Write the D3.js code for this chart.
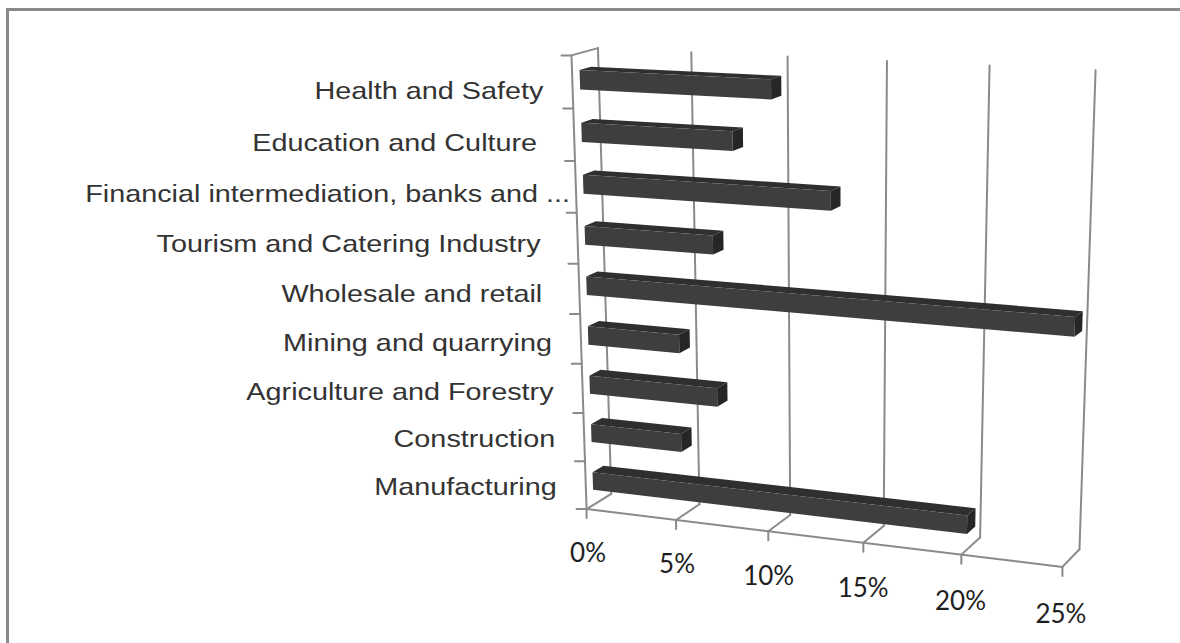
<!DOCTYPE html>
<html>
<head>
<meta charset="utf-8">
<script src="https://cdn.jsdelivr.net/npm/d3@7"></script>
<style>
  html, body { margin: 0; padding: 0; background: #fff; }
  svg { display: block; }
  text { white-space: pre; }
</style>
</head>
<body>
<script>
// Sectors, listed top to bottom as they appear on the category axis
const categories = [
  "Health and Safety",
  "Education and Culture ",
  "Financial intermediation, banks and ...",
  "Tourism and Catering Industry ",
  "Wholesale and retail ",
  "Mining and quarrying",
  "Agriculture and Forestry",
  "Construction",
  "Manufacturing"
];
// Share of each sector, in percent
const shares = [10, 8, 13, 6.9, 25, 5, 7, 5, 20];
// Value axis
const tickValues = [0, 5, 10, 15, 20, 25];
const tickLabels = ["0%", "5%", "10%", "15%", "20%", "25%"];

const W = 1180, H = 643;
const VMAX = 25, LEVELS = categories.length;

// Camera: screen anchors of the plot box (value, category level, depth 0=back..1=front, px, py)
const frameAnchors = [
  [0, 9, 0, 597, 48], [25, 9, 0, 1095, 70], [25, 0, 0, 1080, 549], [0, 0, 0, 612, 493],
  [5, 9, 0, 691, 53], [10, 9, 0, 788, 56], [15, 9, 0, 888, 62], [20, 9, 0, 989, 65],
  [5, 0, 0, 699, 504], [10, 0, 0, 790, 515], [15, 0, 0, 885, 527], [20, 0, 0, 979, 538],
  [0, 9, 1, 572, 55], [0, 0, 1, 586, 509], [25, 0, 1, 1063, 567],
  [5, 0, 1, 677, 520], [10, 0, 1, 768, 531], [15, 0, 1, 864, 543], [20, 0, 1, 960, 554],
  [0, 1, 1, 584.5, 461], [0, 2, 1, 583, 413], [0, 3, 1, 581.5, 364], [0, 4, 1, 580, 315],
  [0, 5, 1, 578.4, 264], [0, 6, 1, 576.9, 213], [0, 7, 1, 575.3, 161], [0, 8, 1, 573.6, 108]
];

// Fit a 3x4 projective camera (last entry fixed at 1) by linear least squares
function fitCamera(pts) {
  const n = 11;
  const M = Array.from({length: n}, () => new Array(n + 1).fill(0));
  const addRow = (r, b) => {
    for (let i = 0; i < n; i++) {
      for (let j = 0; j < n; j++) M[i][j] += r[i] * r[j];
      M[i][n] += r[i] * b;
    }
  };
  pts.forEach(([X, Y, Z, u, v]) => {
    const x = X / VMAX, y = Y / LEVELS, z = Z;
    const un = (u - 600) / 400, vn = (v - 300) / 400;
    addRow([x, y, z, 1, 0, 0, 0, 0, -un * x, -un * y, -un * z], un);
    addRow([0, 0, 0, 0, x, y, z, 1, -vn * x, -vn * y, -vn * z], vn);
  });
  for (let c = 0; c < n; c++) {
    let piv = c;
    for (let r = c + 1; r < n; r++) if (Math.abs(M[r][c]) > Math.abs(M[piv][c])) piv = r;
    [M[c], M[piv]] = [M[piv], M[c]];
    for (let r = 0; r < n; r++) {
      if (r === c) continue;
      const f = M[r][c] / M[c][c];
      for (let k = c; k <= n; k++) M[r][k] -= f * M[c][k];
    }
  }
  return M.map((row, i) => row[n] / row[i]);
}
const P = fitCamera(frameAnchors);
// normalized (x 0..1, y 0..1, z 0..1) -> screen
function project(x, y, z) {
  const w = P[8] * x + P[9] * y + P[10] * z + 1;
  return [600 + 400 * (P[0] * x + P[1] * y + P[2] * z + P[3]) / w,
          300 + 400 * (P[4] * x + P[5] * y + P[6] * z + P[7]) / w];
}

// Scales
const x = d3.scaleLinear().domain([0, VMAX]).range([0, 1]);
const level = d3.scaleLinear().domain([0, LEVELS]).range([0, 1]);
const band = d3.scaleBand()
  .domain(categories.slice().reverse())
  .range([0, 1])
  .paddingInner(0.63)
  .paddingOuter(0.315);
const BAR_BACK = 0.28, BAR_FRONT = 0.72;

const svg = d3.select("body").append("svg")
  .attr("width", W).attr("height", H)
  .attr("viewBox", `0 0 ${W} ${H}`);

// Chart frame
svg.append("rect")
  .attr("x", 7.5).attr("y", 9.5)
  .attr("width", W + 20).attr("height", H + 20)
  .attr("fill", "#fff").attr("stroke", "#8a8a8a").attr("stroke-width", 3);

const line = d3.line();
const grid = svg.append("g")
  .attr("fill", "none").attr("stroke", "#8a8a8a").attr("stroke-width", 2)
  .attr("stroke-linecap", "round").attr("stroke-linejoin", "round");

// Back wall gridlines and floor depth lines at each value tick
tickValues.forEach(t => {
  grid.append("path").attr("d", line([project(x(t), 0, 0), project(x(t), 1, 0)]));
  grid.append("path").attr("d", line([project(x(t), 0, 0), project(x(t), 0, 1)]));
  const f = project(x(t), 0, 1);
  grid.append("path").attr("d", line([f, [f[0], f[1] + 9]]));
});
// Floor front edge
grid.append("path").attr("d", line([project(0, 0, 1), project(1, 0, 1)]));
// Side wall: top edge and category axis
grid.append("path").attr("d", line([project(0, 1, 1), project(0, 1, 0)]));
grid.append("path").attr("d", line([project(0, 0, 1), project(0, 1, 1)]));
d3.range(LEVELS + 1).forEach(k => {
  const p = project(0, level(k), 1);
  grid.append("path").attr("d", line([[p[0] - 10, p[1]], p]));
});

// Bars: top face, front face, end face
const bars = svg.append("g");
const poly = pts => "M" + pts.map(p => p.join(",")).join("L") + "Z";
categories.forEach((c, i) => {
  const x1 = x(shares[i]);
  const y0 = band(c), y1 = y0 + band.bandwidth();
  const g = bars.append("g");
  g.append("path").attr("fill", "#2f2f2f").attr("d", poly([
    project(0, y1, BAR_FRONT), project(x1, y1, BAR_FRONT),
    project(x1, y1, BAR_BACK), project(0, y1, BAR_BACK)]));
  g.append("path").attr("fill", "#3e3e3e").attr("d", poly([
    project(0, y0, BAR_FRONT), project(x1, y0, BAR_FRONT),
    project(x1, y1, BAR_FRONT), project(0, y1, BAR_FRONT)]));
  g.append("path").attr("fill", "#262626").attr("d", poly([
    project(x1, y0, BAR_FRONT), project(x1, y1, BAR_FRONT),
    project(x1, y1, BAR_BACK), project(x1, y0, BAR_BACK)]));
});

// Category labels: rows follow the back-wall spacing, set just below it
const SX = 1.2, LABEL_GAP = 29, LABEL_LEFT = 85, LABEL_DROP = 16;
const catLabels = svg.append("g")
  .attr("font-family", "'Liberation Sans', Arial, sans-serif")
  .attr("font-size", 24).attr("fill", "#333");
categories.forEach(c => {
  const mid = band(c) + band.bandwidth() / 2;
  const axisPt = project(0, mid, 1);
  const rowY = project(0, mid, 0)[1] + LABEL_DROP;
  const t = catLabels.append("text").text(c).attr("dy", "0.35em");
  const w = t.node().getComputedTextLength() * SX;
  let xEnd = axisPt[0] - LABEL_GAP;
  if (xEnd - w < LABEL_LEFT) xEnd = LABEL_LEFT + w;
  t.attr("text-anchor", "end")
   .attr("transform", `translate(${xEnd},${rowY}) scale(${SX},1)`);
});

// Value axis labels
const valLabels = svg.append("g")
  .attr("font-family", "Lato, 'Open Sans', sans-serif")
  .attr("font-size", 26).attr("fill", "#1e1e1e").attr("text-anchor", "middle");
tickValues.forEach((t, i) => {
  const p = project(x(t), level(-0.92), 1);
  valLabels.append("text").attr("x", p[0]).attr("y", p[1]).attr("dy", "0.35em").text(tickLabels[i]);
});
</script>
</body>
</html>
